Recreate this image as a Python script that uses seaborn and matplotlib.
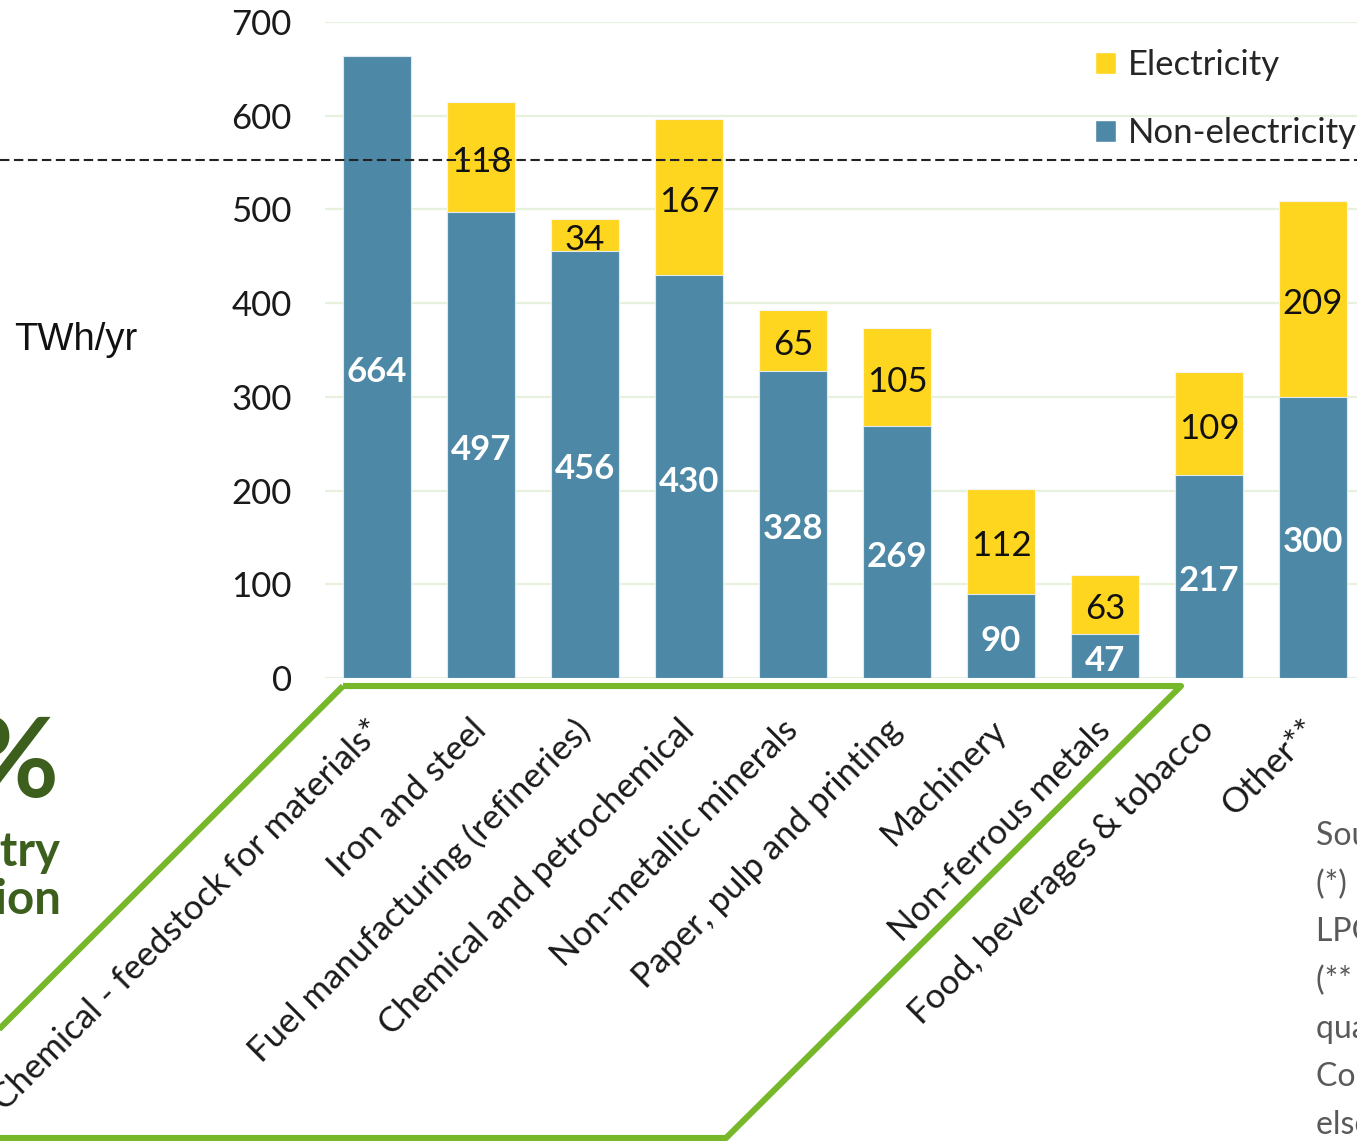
import numpy as np
import pandas as pd
import seaborn as sns
import matplotlib.pyplot as plt
from matplotlib.patches import Polygon, Patch
from matplotlib.transforms import offset_copy

# ---- data -------------------------------------------------------------
sectors = [
    "Chemical - feedstock for materials*",
    "Iron and steel",
    "Fuel manufacturing (refineries)",
    "Chemical and petrochemical",
    "Non-metallic minerals",
    "Paper, pulp and printing",
    "Machinery",
    "Non-ferrous metals",
    "Food, beverages & tobacco",
    "Other**",
]
non_electricity = [664, 497, 456, 430, 328, 269, 90, 47, 217, 300]
electricity = [0, 118, 34, 167, 65, 105, 112, 63, 109, 209]
y_ticks = [0, 100, 200, 300, 400, 500, 600, 700]
reference_level = 553  # dashed reference line (TWh/yr)

legend_labels = ["Electricity", "Non-electricity"]
note_lines = [
    "Source: Eurostat energy balances",
    "(*) Naphtha, natural gas and",
    "LPG used as feedstock",
    "(** Includes mining and",
    "quarrying, textiles, wood,",
    "Construction and industry not",
    "elsewhere specified",
]

# ---- style ------------------------------------------------------------
BLUE = "#4d89a6"
YELLOW = "#ffd61f"
GREEN_FRAME = "#76b82a"
DARK_GREEN = "#3c5f1e"
GRID = "#e6f2dd"

sns.set_theme(style="white")
plt.rcParams["font.family"] = ["Lato", "DejaVu Sans"]

W, H = 1357, 1141
fig = plt.figure(figsize=(W / 100, H / 100), dpi=100)


def fx(x):
    return x / W


def fy(y):
    return 1 - y / H


ax = fig.add_axes([fx(325), fy(678), 1040 / W, (678 - 22) / H])

df = pd.DataFrame({
    "sector": sectors,
    "non_electricity": non_electricity,
    "electricity": electricity,
})
df["total"] = df["non_electricity"] + df["electricity"]

# stacked bars: total in yellow, non-electricity part on top in blue
sns.barplot(data=df, x="sector", y="total", color=YELLOW, saturation=1,
            width=0.66, edgecolor="#f4f4f4", linewidth=0.8, ax=ax, zorder=2)
sns.barplot(data=df, x="sector", y="non_electricity", color=BLUE, saturation=1,
            width=0.66, edgecolor="#dfe9ef", linewidth=0.8, ax=ax, zorder=3)

# value labels, nudged slightly down so digits sit centred in each segment
label_tr = offset_copy(ax.transData, fig=fig, x=0, y=-5, units="dots")
for i, (n, e) in enumerate(zip(non_electricity, electricity)):
    ax.text(i, n / 2, f"{n}", ha="center", va="center", color="white",
            fontsize=25, fontweight="bold", zorder=5, transform=label_tr)
    if e > 0:
        ax.text(i, n + e / 2, f"{e}", ha="center", va="center",
                color="#111111", fontsize=25, zorder=5, transform=label_tr)

ax.set_xlim(-0.5, 9.5)
ax.set_ylim(0, 700)
ax.set_yticks(y_ticks)
ax.set_yticklabels([str(v) for v in y_ticks], fontsize=25, color="#1a1a1a")
ax.set_xticks(range(len(sectors)))
ax.set_xticklabels(sectors, rotation=45, ha="right", va="center",
                   rotation_mode="anchor", fontsize=25, color="#1a1a1a")
ax.tick_params(axis="y", length=0, pad=24)
ax.tick_params(axis="x", length=0, pad=34)
ax.set_xlabel("")
ax.set_ylabel("")
for s in ax.spines.values():
    s.set_visible(False)
ax.yaxis.grid(True, color=GRID, linewidth=1.6, zorder=0)
ax.xaxis.grid(False)
ax.set_axisbelow(True)

# dashed reference line running across the whole figure
ax.axhline(reference_level, xmin=-325 / 1040, xmax=1.0, color="#222222",
           linewidth=1.5, dashes=(4.5, 2.2), clip_on=False, zorder=6)

# legend
handles = [Patch(facecolor=YELLOW), Patch(facecolor=BLUE)]
fig.legend(handles, legend_labels, loc="upper left",
           bbox_to_anchor=(fx(1095), fy(49)), frameon=False, fontsize=25,
           handlelength=0.6, handleheight=0.6, handletextpad=0.35,
           labelspacing=1.05, borderpad=0, borderaxespad=0)

# axis unit
fig.text(fx(14), fy(340), "TWh/yr", ha="left", va="center", fontsize=27.5,
         family=["Liberation Sans", "DejaVu Sans"], color="#111111")

# green frame around the highlighted sectors
frame = Polygon([(fx(343), fy(686)), (fx(1181), fy(686)),
                 (fx(726), fy(1138)), (fx(-110), fy(1138))],
                closed=True, fill=False, edgecolor=GREEN_FRAME, linewidth=4.4,
                joinstyle="round", transform=fig.transFigure, clip_on=False)
fig.add_artist(frame)

# side headline
fig.text(fx(60), fy(797), "29%", ha="right", va="baseline", fontsize=80,
         fontweight="bold", color=DARK_GREEN)
fig.text(fx(61), fy(866), "industry", ha="right", va="baseline", fontsize=34,
         fontweight="bold", color=DARK_GREEN)
fig.text(fx(61), fy(914), "consumption", ha="right", va="baseline", fontsize=34,
         fontweight="bold", color=DARK_GREEN)

# notes
for k, line in enumerate(note_lines):
    fig.text(fx(1316), fy(836 + 48.2 * k), line, ha="left", va="center",
             fontsize=23, color="#595959")

fig.savefig("out.png", dpi=100)
